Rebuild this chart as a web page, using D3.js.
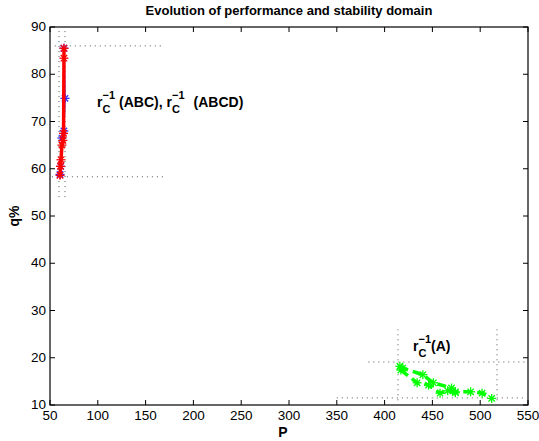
<!DOCTYPE html>
<html><head><meta charset="utf-8">
<script src="https://cdn.jsdelivr.net/npm/d3@7"></script>
<style>body{margin:0;background:#fff}svg{font-family:"Liberation Sans",Arial,sans-serif}</style>
</head><body><svg id="c" width="539" height="441"></svg>
<script>
const xTicks = [50,100,150,200,250,300,350,400,450,500,550];
const yTicks = [10,20,30,40,50,60,70,80,90];
// blue series (ABCD)
const blueP = [60.5,61.2,62.5,64.5,65.7,64.6];
const blueQ = [58.8,60.5,66.5,68,74.9,85.5];
// red series (ABC)
const redP = [60.5,61,61.5,62.5,63.5,64.2,64.6,64.6];
const redQ = [58.6,60.5,61.9,65,66,67.5,83.4,85.5];
// green series (A)
const greenP1 = [416,419,440,451,470,474,490,502,512];
const greenQ1 = [18.2,17.8,16.4,14.7,13.6,12.8,12.8,12.5,11.4];
const greenP2 = [417,434,446,458,466,474];
const greenQ2 = [17.4,14.7,14.2,12.5,13.0,12.6];
// dotted domain boxes
const boxH = [[55,170,86],[52,171,58.3],[383,550,19.1],[350,548,11.5]];
const boxV = [[59.4,54,90],[65.7,54,90],[414,11,26],[517.6,11,26]];

const svg = d3.select("#c");
const L=50,R=528,T=27,B=405;
const x = d3.scaleLinear().domain([50,550]).range([L,R]);
const y = d3.scaleLinear().domain([10,90]).range([B,T]);

boxH.forEach(d=>svg.append("line").attr("x1",x(d[0])).attr("x2",x(d[1])).attr("y1",y(d[2])).attr("y2",y(d[2]))
  .attr("stroke","#555").attr("stroke-width",1).attr("stroke-dasharray","1,4"));
boxV.forEach(d=>svg.append("line").attr("x1",x(d[0])).attr("x2",x(d[0])).attr("y1",y(d[1])).attr("y2",y(d[2]))
  .attr("stroke","#555").attr("stroke-width",1).attr("stroke-dasharray","1,4"));

function star(g,cx,cy,color,r){
  for(let a=0;a<4;a++){const t=a*Math.PI/4;
    g.append("line").attr("x1",cx-r*Math.cos(t)).attr("y1",cy-r*Math.sin(t)).attr("x2",cx+r*Math.cos(t)).attr("y2",cy+r*Math.sin(t))
     .attr("stroke",color).attr("stroke-width",1.3);}
}
const line = d3.line().x(d=>x(d[0])).y(d=>y(d[1]));
function series(P,Q,color,w,dash){
  const pts=P.map((p,i)=>[p,Q[i]]);
  svg.append("path").attr("d",line(pts)).attr("fill","none").attr("stroke",color).attr("stroke-width",w)
   .attr("stroke-dasharray",dash||null);
  pts.forEach(d=>star(svg,x(d[0]),y(d[1]),color,4.5));
}
series(blueP,blueQ,"#3030ff",1.5);
series(redP,redQ,"#ff0000",3.5);
series(greenP1,greenQ1,"#00ff00",3.5,"9,5");
series(greenP2,greenQ2,"#00ff00",3.5,"9,5");

svg.append("rect").attr("x",L).attr("y",T).attr("width",R-L).attr("height",B-T).attr("fill","none").attr("stroke","#000").attr("stroke-width",1.2);
xTicks.forEach(t=>{
  svg.append("line").attr("x1",x(t)).attr("x2",x(t)).attr("y1",B).attr("y2",B-5).attr("stroke","#000");
  svg.append("line").attr("x1",x(t)).attr("x2",x(t)).attr("y1",T).attr("y2",T+5).attr("stroke","#000");
  svg.append("text").attr("x",x(t)).attr("y",B+15).attr("text-anchor","middle").attr("font-size",13.5).text(t);
});
yTicks.forEach(t=>{
  svg.append("line").attr("x1",L).attr("x2",L+5).attr("y1",y(t)).attr("y2",y(t)).attr("stroke","#000");
  svg.append("line").attr("x1",R).attr("x2",R-5).attr("y1",y(t)).attr("y2",y(t)).attr("stroke","#000");
  svg.append("text").attr("x",L-4).attr("y",y(t)+4).attr("text-anchor","end").attr("font-size",13.5).text(t);
});
svg.append("text").attr("x",289).attr("y",15).attr("text-anchor","middle").attr("font-size",13).attr("font-weight","bold").text("Evolution of performance and stability domain");
svg.append("text").attr("x",283).attr("y",437).attr("text-anchor","middle").attr("font-size",14).attr("font-weight","bold").text("P");
svg.append("text").attr("transform","translate(19,216) rotate(-90)").attr("text-anchor","middle").attr("font-size",14).attr("font-weight","bold").text("q%");

function piece(xx,yy,txt,fs){
  const t=svg.append("text").attr("x",xx).attr("y",yy).attr("font-size",fs).attr("font-weight","bold").text(txt);
  return xx+t.node().getComputedTextLength();
}
function rc(xx,yy){
  let nx=piece(xx,yy,"r",14);
  const a=piece(nx,yy+6,"C",11);
  const b=piece(nx,yy-8,"−1",11);
  return Math.max(a,b);
}
const ly=107;
let nx=rc(97,ly);
nx=piece(nx+4,ly,"(ABC),",14);
nx=rc(nx+4,ly);
piece(nx+9,ly,"(ABCD)",14);
nx=rc(413,351);
piece(nx,351,"(A)",14);
</script></body></html>
